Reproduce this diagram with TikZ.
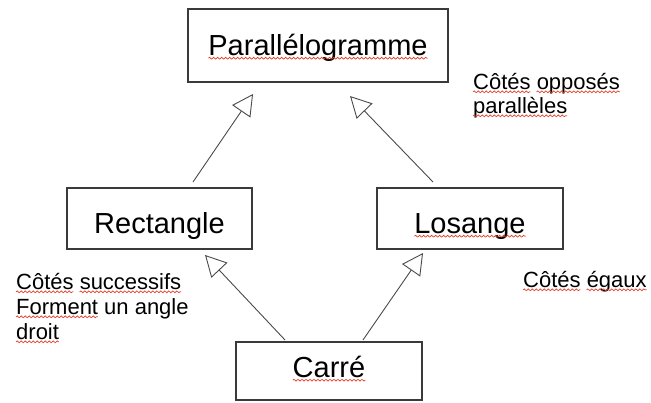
\documentclass[tikz,border=0pt]{standalone}
\usepackage{fontspec}
\setmainfont{Liberation Sans}
\usetikzlibrary{arrows.meta,decorations.pathmorphing}
\definecolor{boxline}{HTML}{3A3A3A}
\definecolor{arrline}{HTML}{4A4A4A}
\definecolor{squig}{HTML}{E53A26}
\newlength\wCotes \newlength\wCotesSp \newlength\wOpp \newlength\wPar
\newlength\wSucc \newlength\wForm \newlength\wDroit \newlength\wEgaux
\newlength\wPgm \newlength\wLos \newlength\wCarre
\begin{document}
\settowidth\wCotes{\fontsize{22}{25}\selectfont Côtés}%
\settowidth\wCotesSp{\fontsize{22}{25}\selectfont Côtés\ }%
\settowidth\wOpp{\fontsize{22}{25}\selectfont opposés}%
\settowidth\wPar{\fontsize{22}{25}\selectfont parallèles}%
\settowidth\wSucc{\fontsize{22}{25}\selectfont successifs}%
\settowidth\wForm{\fontsize{22}{25}\selectfont Forment}%
\settowidth\wDroit{\fontsize{22}{25}\selectfont droit}%
\settowidth\wEgaux{\fontsize{22}{25}\selectfont égaux}%
\settowidth\wPgm{\fontsize{29}{34}\selectfont Parallélogramme}%
\settowidth\wLos{\fontsize{29}{34}\selectfont Losange}%
\settowidth\wCarre{\fontsize{29}{34}\selectfont Carré}%
\begin{tikzpicture}[x=1pt,y=-1pt,
  box/.style={draw=boxline, line width=1.3pt, inner sep=0pt, outer sep=0pt, anchor=north west},
  big/.style={font=\fontsize{29}{34}\selectfont},
  lbl/.style={font=\fontsize{22}{25}\selectfont, inner sep=0pt, anchor=base west},
  inh/.style={draw=arrline, line width=0.9pt, -{Triangle[open, length=21pt, width=22pt]}},
  sq/.style={draw=squig, line width=0.7pt, decorate, decoration={snake, segment length=4pt, amplitude=0.9pt}}]
\useasboundingbox (0,0) rectangle (651,402);
\node[box, big, minimum width=260pt, text height=46pt, text depth=27pt] (para) at (188,9) {Parallélogramme};
\node[box, big, minimum width=185pt, text height=45pt, text depth=16pt] (rect) at (67,188) {Rectangle};
\node[box, big, minimum width=186pt, text height=45pt, text depth=16pt] (los) at (377,188) {Losange};
\node[box, big, minimum width=186pt, text height=35pt, text depth=23pt] (carre) at (236,342) {Carré};
\draw[inh, shorten <=7.3pt, shorten >=14.5pt] ([xshift=29.4pt]rect.north) -- ([xshift=-56.8pt]para.south);
\draw[inh, shorten <=8.3pt, shorten >=19.5pt] ([xshift=-31.2pt]los.north) -- ([xshift=18.5pt]para.south);
\draw[inh, shorten <=2.7pt, shorten >=8.2pt] ([xshift=-42.1pt]carre.north) -- ([xshift=39.9pt]rect.south);
\draw[inh, shorten <=2.4pt, shorten >=4.9pt] ([xshift=32.6pt]carre.north) -- ([xshift=-44.2pt]los.south);
\node[lbl] (c1) at (473,89) {Côtés opposés};
\node[lbl] (c2) at (473,113) {parallèles};
\node[lbl] (r1) at (16,289) {Côtés successifs};
\node[lbl] (r2) at (16,314) {Forment un angle};
\node[lbl] (r3) at (16,339) {droit};
\node[lbl] (l1) at (523,287) {Côtés égaux};
% spell-check wavy underlines
\draw[sq] ([xshift=-0.5\wPgm,yshift=-3.2pt]para.base) -- ++(\wPgm,0);
\draw[sq] ([xshift=-0.5\wLos,yshift=-3.2pt]los.base) -- ++(\wLos,0);
\draw[sq] ([xshift=-0.5\wCarre,yshift=-3.2pt]carre.base) -- ++(\wCarre,0);
\draw[sq] ([yshift=-2.8pt]c1.base west) -- ++(\wCotes,0);
\draw[sq] ([xshift=\wCotesSp,yshift=-2.8pt]c1.base west) -- ++(\wOpp,0);
\draw[sq] ([yshift=-2.8pt]c2.base west) -- ++(\wPar,0);
\draw[sq] ([yshift=-2.8pt]r1.base west) -- ++(\wCotes,0);
\draw[sq] ([xshift=\wCotesSp,yshift=-2.8pt]r1.base west) -- ++(\wSucc,0);
\draw[sq] ([yshift=-2.8pt]r2.base west) -- ++(\wForm,0);
\draw[sq] ([yshift=-2.8pt]r3.base west) -- ++(\wDroit,0);
\draw[sq] ([yshift=-2.8pt]l1.base west) -- ++(\wCotes,0);
\draw[sq] ([xshift=\wCotesSp,yshift=-2.8pt]l1.base west) -- ++(\wEgaux,0);
\end{tikzpicture}
\end{document}
